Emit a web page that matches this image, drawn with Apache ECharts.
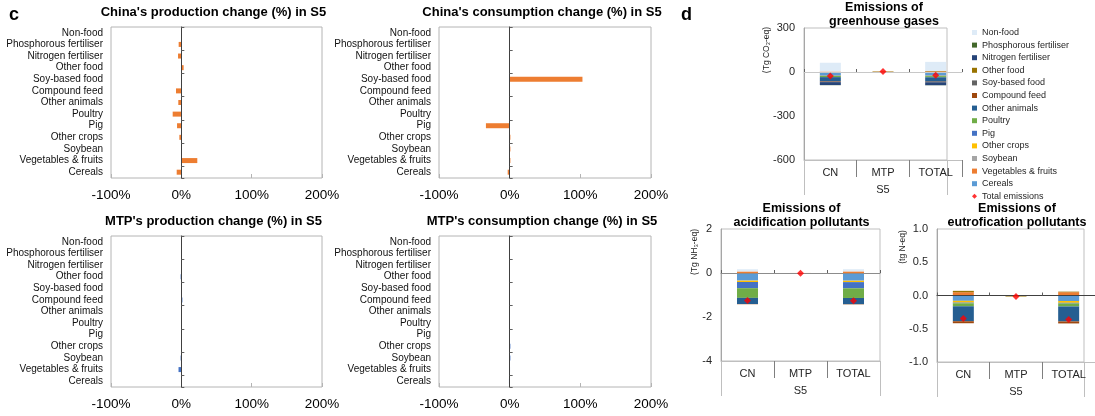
<!DOCTYPE html>
<html>
<head>
<meta charset="utf-8">
<script src="https://cdn.jsdelivr.net/npm/echarts@6/dist/echarts.min.js"></script>
<style>
  html, body { margin: 0; padding: 0; background: #ffffff; }
  #chart { width: 1095px; height: 416px; }
</style>
</head>
<body>
<div id="chart"></div>
<script>
// ---- Panel c: change (%) per commodity, listed top to bottom ----
const goods = ['Non-food', 'Phosphorous fertiliser', 'Nitrogen fertiliser', 'Other food',
  'Soy-based food', 'Compound feed', 'Other animals', 'Poultry', 'Pig', 'Other crops',
  'Soybean', 'Vegetables & fruits', 'Cereals'];
const cnProduction   = [0.5, -3.8, -4.7, 3.3, 0, -7.6, -4.3, -12.3, -6.1, -2.8, 0, 22.7, -6.6];
const cnConsumption  = [0, 0, 0, 0, 103, 0, 0, 0, -33.6, 1, 1, 1, -2.8];
const mtpProduction  = [0, 0, 0, -1, 0, 1.5, 0, 0.5, 0, 0, -1, -4, 0];
const mtpConsumption = [0, 0, 0, 0, 0, 0, 0, 0, 0, 1, 1, 0.5, -1];
const pctTicks = [-100, 0, 100, 200];

// ---- Panel d: emission changes by source (stacking order) ----
const regions = ['CN', 'MTP', 'TOTAL'];
const scenario = 'S5';
const sources = ['Cereals', 'Vegetables & fruits', 'Soybean', 'Other crops', 'Pig', 'Poultry',
  'Other animals', 'Compound feed', 'Soy-based food', 'Other food', 'Nitrogen fertiliser',
  'Phosphorous fertiliser', 'Non-food'];

// greenhouse gases, Tg CO2-eq
const ghgCN    = [-22, 3, 0, -2, -3, -8, -30, -4, 0, 0, -20, -1, 60];
const ghgMTP   = [-1, 1, 0, 0, 0, 0, 0, 0, 0, 3, 0, 0, 0];
const ghgTOTAL = [-23, 4, 0, -2, -3, -8, -30, -4, 0, 3, -20, -1, 62];
const ghgTotals = [-27, 3, -22];
const ghgTicks = [-600, -300, 0, 300];

// acidification pollutants, Tg NH3-eq
const acidCN    = [-0.34, 0.07, -0.01, -0.06, -0.28, -0.44, -0.28, -0.01, 0, 0, 0, 0, 0.10];
const acidMTP   = [-0.005, 0.002, 0, 0, 0, 0, 0, 0, 0, -0.003, 0, 0, 0];
const acidTOTAL = [-0.345, 0.072, -0.01, -0.06, -0.28, -0.44, -0.28, -0.01, 0, -0.003, 0, 0, 0.10];
const acidTotals = [-1.25, -0.006, -1.256];
const acidTicks = [-4, -2, 0, 2];

// eutrophication pollutants, Tg N-eq
const eutroCN    = [-0.08, 0.05, 0, -0.027, -0.01, -0.045, -0.225, -0.03, 0, 0.02, 0, 0, 0];
const eutroMTP   = [-0.003, 0, 0, 0, 0, 0, 0, 0, 0, -0.012, 0, 0, 0];
const eutroTOTAL = [-0.083, 0.05, 0, -0.027, -0.01, -0.045, -0.225, -0.03, 0, 0.008, 0, 0, 0];
const eutroTotals = [-0.347, -0.015, -0.362];
const eutroTicks = [-1, -0.5, 0, 0.5, 1];

// colours for each emission source, same order as `sources`
const sourceColors = ['#5B9BD5', '#ED7D31', '#A5A5A5', '#FFC000', '#4472C4', '#70AD47',
  '#255E91', '#9E480E', '#636363', '#997300', '#264478', '#43682B', '#DEEBF7'];

const FONT = 'Liberation Sans, Arial, sans-serif';
const grids = [], xAxes = [], yAxes = [], series = [], titles = [], graphics = [];

function changePanel(box, title, values, color) {
  const gi = grids.length;
  grids.push({ left: box[0], top: box[1], width: box[2], height: box[3], show: true,
    borderColor: '#b4b4b4', borderWidth: 1, outerBoundsMode: 'none' });
  const xi = xAxes.length;
  xAxes.push({ gridIndex: gi, type: 'value', position: 'bottom',
    min: pctTicks[0], max: pctTicks[pctTicks.length - 1], interval: pctTicks[1] - pctTicks[0],
    axisLine: { show: false, onZero: false },
    axisTick: { show: true, inside: true, length: 4, lineStyle: { color: '#b4b4b4' } },
    splitLine: { show: false },
    axisLabel: { formatter: v => v + '%', fontSize: 13.5, color: '#000', margin: 10, fontFamily: FONT } });
  const yi = yAxes.length;
  yAxes.push({ gridIndex: gi, type: 'category', data: goods, inverse: true, position: 'left',
    axisLine: { show: false, onZero: false }, axisTick: { show: false },
    axisLabel: { fontSize: 10, color: '#111', margin: 8, interval: 0, fontFamily: FONT } });
  yAxes.push({ gridIndex: gi, type: 'category', data: goods, inverse: true, position: 'left', z: 3,
    axisLine: { show: true, onZero: true, lineStyle: { color: '#404040', width: 1 } },
    axisTick: { show: true, inside: true, length: 3, lineStyle: { color: '#606060' } },
    axisLabel: { show: false } });
  series.push({ type: 'bar', xAxisIndex: xi, yAxisIndex: yi, data: values, barWidth: 5,
    itemStyle: { color: color }, silent: true });
  titles.push({ text: title, left: box[0] + box[2] / 2 - 3, top: box[1] - 21, textAlign: 'center',
    padding: 0, textStyle: { fontSize: 13, fontWeight: 'bold', color: '#000', fontFamily: FONT } });
}

function emissionPanel(box, frameWidth, title, yName, namePos, ticks, fmt, byRegion, totals, zeroColor) {
  const gi = grids.length;
  const framed = frameWidth === box[2];
  grids.push({ left: box[0], top: box[1], width: box[2], height: box[3], show: framed,
    borderColor: '#bfbfbf', borderWidth: 1, outerBoundsMode: 'none' });
  const xi = xAxes.length;
  // category labels with dividers below the plot
  xAxes.push({ gridIndex: gi, type: 'category', data: regions, position: 'bottom',
    axisLine: { show: true, onZero: false, lineStyle: { color: '#bfbfbf' } },
    axisTick: { show: true, length: 17, lineStyle: { color: '#7f7f7f' } },
    axisLabel: { fontSize: 11, color: '#262626', margin: 7, fontFamily: FONT } });
  // zero line
  xAxes.push({ gridIndex: gi, type: 'category', data: regions, position: 'bottom', z: 3,
    axisLine: { show: true, onZero: true, lineStyle: { color: zeroColor } },
    axisTick: { show: true, inside: true, length: 3, lineStyle: { color: '#606060' } },
    axisLabel: { show: false } });
  // scenario label
  xAxes.push({ gridIndex: gi, type: 'category', data: [scenario], position: 'bottom',
    axisLine: { show: false, onZero: false },
    axisTick: { show: framed, length: 35, lineStyle: { color: '#bfbfbf' } },
    axisLabel: { fontSize: 11, color: '#262626', margin: 24, fontFamily: FONT } });
  const yi = yAxes.length;
  yAxes.push({ gridIndex: gi, type: 'value', position: 'left',
    min: ticks[0], max: ticks[ticks.length - 1], interval: ticks[1] - ticks[0],
    axisLine: { show: true, onZero: false, lineStyle: { color: '#a6a6a6' } },
    axisTick: { show: false }, splitLine: { show: false },
    axisLabel: { fontSize: 11, color: '#262626', margin: 9, formatter: fmt, fontFamily: FONT } });
  sources.forEach((name, s) => {
    series.push({ type: 'bar', name: name, xAxisIndex: xi, yAxisIndex: yi, stack: 'src' + gi,
      data: byRegion.map(r => r[s]), barWidth: 21, silent: true,
      itemStyle: { color: sourceColors[s] } });
  });
  series.push({ type: 'scatter', name: 'Total emissions', xAxisIndex: xi, yAxisIndex: yi,
    data: totals, symbol: 'diamond', symbolSize: 7, z: 5, silent: true,
    itemStyle: { color: '#FF0000' } });

  if (!framed) {
    // plot-area frame, narrower than the category band
    const fi = grids.length;
    grids.push({ left: box[0], top: box[1], width: frameWidth, height: box[3], show: true,
      borderColor: '#bfbfbf', borderWidth: 1, outerBoundsMode: 'none' });
    xAxes.push({ gridIndex: fi, type: 'category', data: [scenario], position: 'bottom',
      axisLine: { show: false, onZero: false },
      axisTick: { show: true, length: 35, lineStyle: { color: '#bfbfbf' } },
      axisLabel: { show: false } });
    yAxes.push({ gridIndex: fi, type: 'value', show: false, min: 0, max: 1 });
  }
  titles.push({ text: title, left: box[0] + box[2] / 2 + 1, top: box[1] - 28, textAlign: 'center',
    padding: 0, textStyle: { fontSize: 12.5, fontWeight: 'bold', color: '#000', lineHeight: 14.5,
    fontFamily: FONT } });
  graphics.push({ type: 'text', x: namePos[0], y: namePos[1], rotation: Math.PI / 2, silent: true,
    style: { text: yName, fontSize: 8.5, fill: '#262626', align: 'center', verticalAlign: 'middle',
    font: '8.5px Liberation Sans' } });
}

changePanel([111, 27, 211, 151], "China's production change (%) in S5", cnProduction, '#ED7D31');
changePanel([439, 27, 212, 151], "China's consumption change (%) in S5", cnConsumption, '#ED7D31');
changePanel([111, 236, 211, 151], "MTP's production change (%) in S5", mtpProduction, '#4472C4');
changePanel([439, 236, 212, 151], "MTP's consumption change (%) in S5", mtpConsumption, '#4472C4');

emissionPanel([804, 28, 158, 132], 143, 'Emissions of\ngreenhouse gases', '(Tg CO₂-eq)', [767, 50],
  ghgTicks, v => String(v), [ghgCN, ghgMTP, ghgTOTAL], ghgTotals, '#c8c8c8');
emissionPanel([721, 229, 159, 132], 159, 'Emissions of\nacidification pollutants', '(Tg NH₃-eq)', [695, 252],
  acidTicks, v => String(v), [acidCN, acidMTP, acidTOTAL], acidTotals, '#8c8c8c');
emissionPanel([937, 229, 158, 133], 147, 'Emissions of\neutrofication pollutants', '(tg N-eq)', [903, 247],
  eutroTicks, v => v.toFixed(1), [eutroCN, eutroMTP, eutroTOTAL], eutroTotals, '#404040');

titles.push({ text: 'c', left: 9, top: 6, padding: 0,
  textStyle: { fontSize: 18, fontWeight: 'bold', color: '#000', fontFamily: FONT } });
titles.push({ text: 'd', left: 681, top: 6, padding: 0,
  textStyle: { fontSize: 18, fontWeight: 'bold', color: '#000', fontFamily: FONT } });

const legendData = sources.slice().reverse().map(n => ({ name: n, icon: 'rect' }));
legendData.push({ name: 'Total emissions', icon: 'diamond' });

const chart = echarts.init(document.getElementById('chart'), null, { renderer: 'canvas' });
chart.setOption({
  animation: false,
  backgroundColor: '#ffffff',
  textStyle: { fontFamily: FONT },
  title: titles,
  grid: grids,
  xAxis: xAxes,
  yAxis: yAxes,
  series: series,
  graphic: graphics,
  legend: {
    orient: 'vertical', left: 972, top: 28, padding: 0,
    itemWidth: 5, itemHeight: 5, itemGap: 3.6, selectedMode: false,
    textStyle: { fontSize: 9, color: '#262626', fontFamily: FONT },
    data: legendData
  }
});
</script>
</body>
</html>
